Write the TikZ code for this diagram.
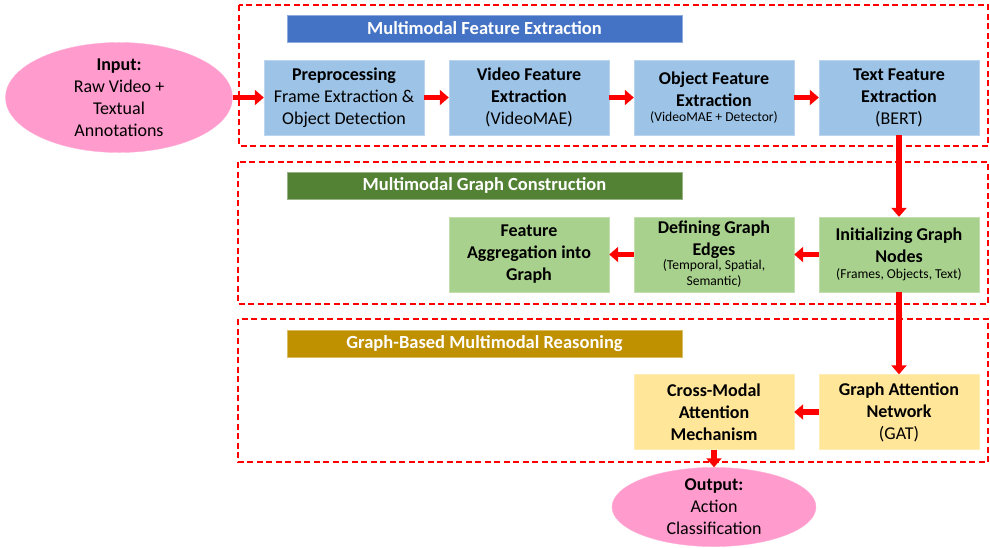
\documentclass[tikz,border=0pt]{standalone}
\usepackage{fontspec}
\setmainfont{Carlito}
\usetikzlibrary{arrows.meta, shapes.geometric}

\definecolor{barblue}{HTML}{4472C4}
\definecolor{bargreen}{HTML}{548235}
\definecolor{bargold}{HTML}{BF9000}
\definecolor{fillblue}{HTML}{9DC3E6}
\definecolor{fillgreen}{HTML}{A9D18E}
\definecolor{fillyellow}{HTML}{FFE699}
\definecolor{fillpink}{HTML}{FF9BCD}

\newcommand{\notesize}{\fontsize{13.6}{16}\selectfont}

\tikzset{
	stageframe/.style = {draw = red, line width = 1.8pt, dash pattern = on 6pt off 3.5pt},
	banner/.style = {fill = #1, draw = #1!60!white, minimum width = 395, minimum height = 27,
		text = white, font = \fontsize{18.5}{20}\selectfont\bfseries},
	block/.style = {fill = #1, draw = #1!70!white, minimum width = 160, minimum height = 75,
		text width = 158, align = flush center, inner sep = 1pt},
	terminal/.style = {ellipse, fill = fillpink, draw = fillpink!80!white, inner sep = 0pt,
		align = flush center},
	flow/.style = {draw = red, line width = 5.5pt, -{Triangle[length = 9pt, width = 15pt]}}
}

\begin{document}
\begin{tikzpicture}[x = 1pt, y = -1pt, font = \fontsize{18}{22}\selectfont]
	\useasboundingbox (0,0) rectangle (990,547);

	\draw[stageframe] (239,5) rectangle (988,146);
	\draw[stageframe] (238,162) rectangle (988,304);
	\draw[stageframe] (238,319) rectangle (988,462);

	\node[banner = barblue] (barExtract) at (484.5,28.5) {Multimodal Feature Extraction};
	\node[banner = bargreen] (barGraph) at (484.5,185.5) {Multimodal Graph Construction};
	\node[banner = bargold] (barReason) at (484.5,343.5) {Graph-Based Multimodal Reasoning};

	\node[terminal, minimum width = 227, minimum height = 88] (input) at (119,97.5)
		{\textbf{Input:}\\Raw Video +\\Textual\\Annotations};

	\node[block = fillblue] (prep) at (344,97.5)
		{\textbf{Preprocessing}\\Frame Extraction \&\\Object Detection};
	\node[block = fillblue] (video) at (529,97.5)
		{\textbf{Video Feature}\\\textbf{Extraction}\\(VideoMAE)};
	\node[block = fillblue] (object) at (714,97.5)
		{\textbf{Object Feature}\\\textbf{Extraction}\\[-1pt]{\notesize (VideoMAE + Detector)\par}};
	\node[block = fillblue] (text) at (899,97.5)
		{\textbf{Text Feature}\\\textbf{Extraction}\\(BERT)};

	\node[block = fillgreen] (init) at (899,254.5)
		{\textbf{Initializing Graph}\\\textbf{Nodes}\\[0pt]{\notesize (Frames, Objects, Text)\par}};
	\node[block = fillgreen] (edges) at (714,254.5)
		{\textbf{Defining Graph}\\\textbf{Edges}\\[-2pt]{\notesize (Temporal, Spatial,\\Semantic)\par}};
	\node[block = fillgreen] (aggr) at (529,254.5)
		{\textbf{Feature}\\\textbf{Aggregation into}\\\textbf{Graph}};

	\node[block = fillyellow] (gat) at (899,412)
		{\textbf{Graph Attention}\\\textbf{Network}\\(GAT)};
	\node[block = fillyellow] (cross) at (714,412)
		{\textbf{Cross-Modal}\\\textbf{Attention}\\\textbf{Mechanism}};

	\node[terminal, minimum width = 204, minimum height = 72] (output) at (714,507)
		{\textbf{Output:}\\Action\\Classification};

	\draw[flow] (input) -- (prep);
	\draw[flow] (prep) -- (video);
	\draw[flow] (video) -- (object);
	\draw[flow] (object) -- (text);
	\draw[flow] (text) -- (init);
	\draw[flow] (init) -- (edges);
	\draw[flow] (edges) -- (aggr);
	\draw[flow] (init) -- (gat);
	\draw[flow] (gat) -- (cross);
	\draw[flow] (cross) -- (output);
\end{tikzpicture}
\end{document}
